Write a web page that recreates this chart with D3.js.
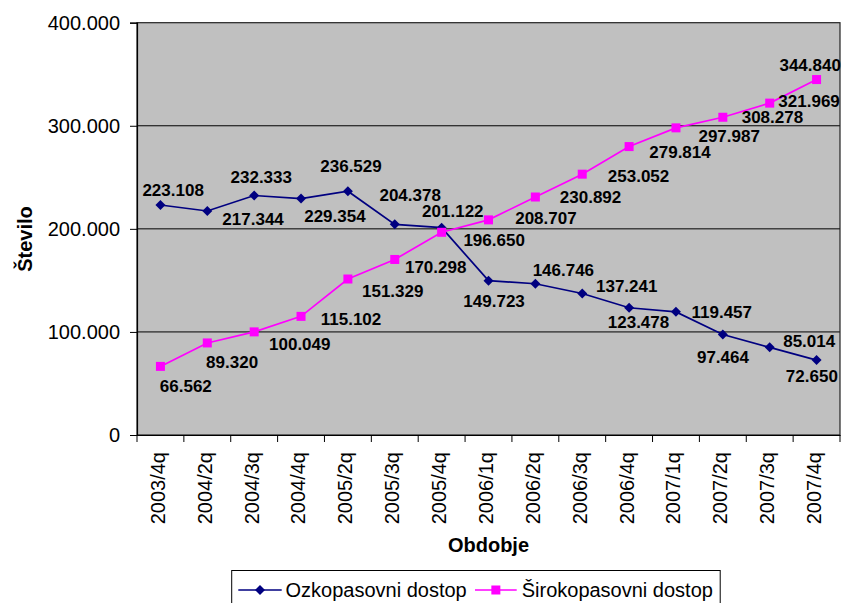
<!DOCTYPE html>
<html>
<head>
<meta charset="utf-8">
<script src="https://cdn.jsdelivr.net/npm/d3@7"></script>
<style>
  html, body { margin: 0; padding: 0; background: #fff; }
  svg { display: block; font-family: "Liberation Sans", Arial, sans-serif; }
</style>
</head>
<body>
<svg id="chart" width="842" height="603"></svg>
<script>
// ---- data ----
const categories = ["2003/4q","2004/2q","2004/3q","2004/4q","2005/2q","2005/3q","2005/4q","2006/1q","2006/2q","2006/3q","2006/4q","2007/1q","2007/2q","2007/3q","2007/4q"];
const ozkopasovni = [223108, 217344, 232333, 229354, 236529, 204378, 201122, 149723, 146746, 137241, 123478, 119457, 97464, 85014, 72650];
const sirokopasovni = [66562, 89320, 100049, 115102, 151329, 170298, 196650, 208707, 230892, 253052, 279814, 297987, 308278, 321969, 344840];
const yTicks = [0, 100000, 200000, 300000, 400000];
const seriesNames = ["Ozkopasovni dostop", "Širokopasovni dostop"];
const xTitle = "Obdobje";
const yTitle = "Število";

// ---- label layout (pixel offsets of each data label from its point) ----
const ozkoLabelDx = [12.7, 45.8, 7.1, 33.9, 3.1, 15.4, 11.2, 5.6, 28, 44.5, 9.4, 45.8, 0.1, 39.5, -4.7];
const ozkoLabelDy = [-9, 14, -12.2, 23.1, -19.5, -23.6, -11, 26, -8, -1.8, 20.6, 5.8, 28.8, -0.1, 21.6];
const siroLabelDx = [25.4, 24.8, 45.6, 50, 44.8, 40.9, 52.5, 57.4, 55.2, 56.3, 50.9, 53.2, 49.6, 39.4, -6.4];
const siroLabelDy = [25.3, 25.4, 18.1, 8.6, 17.7, 13.2, 13.7, 4.1, 6.3, 7.5, 11.7, 13.9, 5.5, 4.2, -8.8];

const colors = ["#000080", "#FF00FF"];

// ---- layout ----
const plot = { left: 137, right: 840, top: 22.7, bottom: 435 };
const svg = d3.select("#chart");

const loc = d3.formatLocale({ decimal: ",", thousands: ".", grouping: [3], currency: ["", ""] });
const fmt = loc.format(",d");

const x = d3.scaleBand().domain(categories).range([plot.left, plot.right]).padding(0);
const y = d3.scaleLinear().domain([0, 400000]).range([plot.bottom, plot.top]);
const cx = d => x(d) + x.bandwidth() / 2;

// plot background
svg.append("rect")
  .attr("x", plot.left).attr("y", plot.top)
  .attr("width", plot.right - plot.left).attr("height", plot.bottom - plot.top)
  .attr("fill", "#C0C0C0");

// gridlines
svg.append("g").selectAll("line").data(yTicks.filter(t => t > 0 && t < 400000)).join("line")
  .attr("x1", plot.left).attr("x2", plot.right)
  .attr("y1", d => y(d)).attr("y2", d => y(d))
  .attr("stroke", "#000").attr("stroke-width", 1);

// border
svg.append("rect")
  .attr("x", plot.left).attr("y", plot.top)
  .attr("width", plot.right - plot.left).attr("height", plot.bottom - plot.top)
  .attr("fill", "none").attr("stroke", "#222").attr("stroke-width", 1.2);

// y axis
const yAxis = svg.append("g").attr("transform", `translate(${plot.left},0)`)
  .call(d3.axisLeft(y).tickValues(yTicks).tickFormat(fmt).tickSize(7).tickPadding(10));
yAxis.select(".domain").attr("stroke", "#000").attr("stroke-width", 1.2);
yAxis.selectAll(".tick line").attr("stroke", "#000");
yAxis.selectAll("text").attr("font-size", 20).attr("fill", "#000")
  .attr("font-family", "Liberation Sans, Arial, sans-serif");

// x axis (ticks between categories)
const xAxis = svg.append("g").attr("transform", `translate(0,${plot.bottom})`)
  .call(d3.axisBottom(x).tickSize(0).tickPadding(0));
xAxis.select(".domain").attr("stroke", "#000").attr("stroke-width", 1.2);
xAxis.selectAll("text")
  .attr("font-size", 20).attr("fill", "#000")
  .attr("font-family", "Liberation Sans, Arial, sans-serif")
  .attr("text-anchor", "end")
  .attr("transform", "translate(0,17) rotate(-90)")
  .attr("y", 0).attr("x", 0).attr("dy", "0.22em");
const edges = categories.map(c => x(c)).concat([plot.right]);
svg.append("g").selectAll("line").data(edges).join("line")
  .attr("x1", d => d).attr("x2", d => d)
  .attr("y1", plot.bottom).attr("y2", plot.bottom + 7)
  .attr("stroke", "#000").attr("stroke-width", 1);

// axis titles
svg.append("text")
  .attr("x", (plot.left + plot.right) / 2).attr("y", 551.7)
  .attr("text-anchor", "middle").attr("font-size", 20).attr("font-weight", "bold")
  .text(xTitle);
svg.append("text")
  .attr("transform", `translate(32.3,239) rotate(-90)`)
  .attr("text-anchor", "middle").attr("font-size", 20).attr("font-weight", "bold")
  .text(yTitle);

// lines
const line = d3.line().x((d, i) => cx(categories[i])).y(d => y(d));
svg.append("path").datum(ozkopasovni).attr("d", line)
  .attr("fill", "none").attr("stroke", colors[0]).attr("stroke-width", 1.7);
svg.append("path").datum(sirokopasovni).attr("d", line)
  .attr("fill", "none").attr("stroke", colors[1]).attr("stroke-width", 1.7);

// markers
const diamond = d3.symbol().type(d3.symbolSquare).size(50);
svg.append("g").selectAll("path").data(ozkopasovni).join("path")
  .attr("d", diamond())
  .attr("transform", (d, i) => `translate(${cx(categories[i])},${y(d)}) rotate(45)`)
  .attr("fill", colors[0]);
svg.append("g").selectAll("rect").data(sirokopasovni).join("rect")
  .attr("x", (d, i) => cx(categories[i]) - 4.5).attr("y", d => y(d) - 4.5)
  .attr("width", 9).attr("height", 9)
  .attr("fill", colors[1]);

// data labels
function labels(values, dxs, dys) {
  svg.append("g").selectAll("text").data(values).join("text")
    .attr("x", (d, i) => cx(categories[i]) + dxs[i])
    .attr("y", (d, i) => y(d) + dys[i])
    .attr("text-anchor", "middle")
    .attr("font-size", 17).attr("font-weight", "bold").attr("fill", "#000")
    .text(d => fmt(d));
}
labels(ozkopasovni, ozkoLabelDx, ozkoLabelDy);
labels(sirokopasovni, siroLabelDx, siroLabelDy);

// legend
const lg = svg.append("g");
lg.append("rect").attr("x", 231.7).attr("y", 570.5).attr("width", 488.5).attr("height", 40)
  .attr("fill", "#fff").attr("stroke", "#000").attr("stroke-width", 1);
const legendItems = [
  { name: seriesNames[0], color: colors[0], x0: 238.3, x1: 281.7, tx: 285.5, kind: "diamond" },
  { name: seriesNames[1], color: colors[1], x0: 475, x1: 516.7, tx: 521.7, kind: "square" }
];
legendItems.forEach(it => {
  const ly = 590;
  lg.append("line").attr("x1", it.x0).attr("x2", it.x1).attr("y1", ly).attr("y2", ly)
    .attr("stroke", it.color).attr("stroke-width", 1.7);
  const mx = (it.x0 + it.x1) / 2;
  if (it.kind === "diamond") {
    lg.append("path").attr("d", diamond())
      .attr("transform", `translate(${mx},${ly}) rotate(45)`).attr("fill", it.color);
  } else {
    lg.append("rect").attr("x", mx - 4.5).attr("y", ly - 4.5).attr("width", 9).attr("height", 9)
      .attr("fill", it.color);
  }
  lg.append("text").attr("x", it.tx).attr("y", 596.5).attr("font-size", 20).attr("fill", "#000")
    .text(it.name);
});
</script>
</body>
</html>
